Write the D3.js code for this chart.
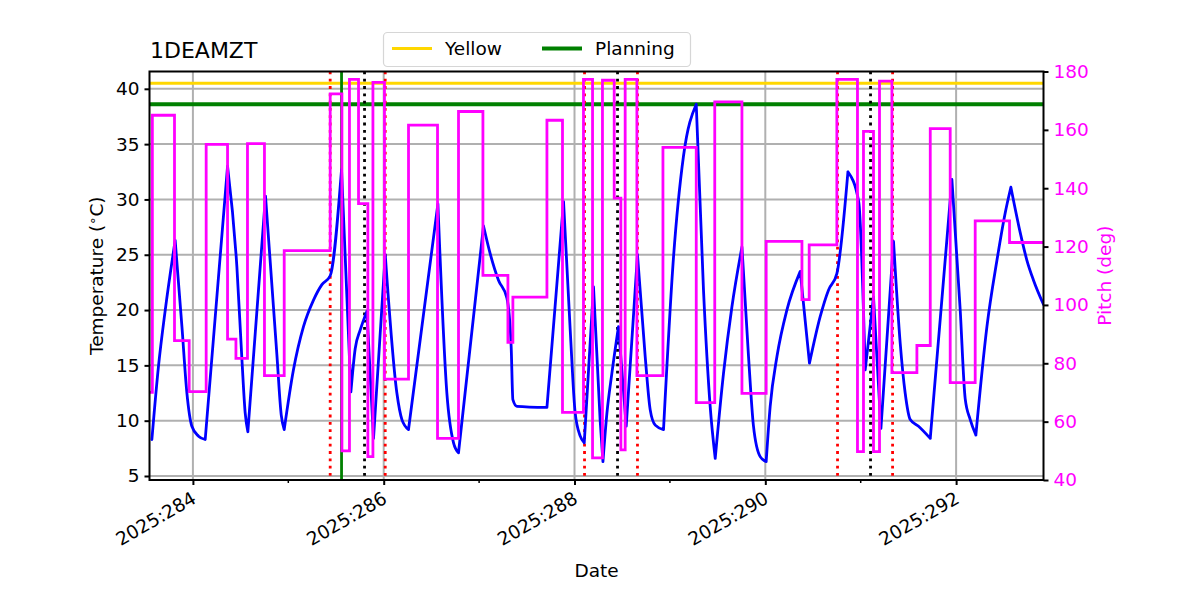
<!DOCTYPE html>
<html>
<head>
<meta charset="utf-8">
<script src="https://cdn.jsdelivr.net/npm/d3@7"></script>
<style>
  body { margin: 0; background: #fff; }
  text { font-family: "DejaVu Sans", sans-serif; }
</style>
</head>
<body>
<svg id="chart"></svg>
<script>
// Temperature trace (day of year, deg C)
const tempDays = [283.570, 283.639, 283.710, 283.814, 283.885, 283.937, 283.989, 284.059, 284.129,
  284.363, 284.461, 284.514, 284.548, 284.576, 284.761, 284.880, 284.926, 284.957,
  285.054, 285.159, 285.264, 285.352, 285.439, 285.558, 285.656, 285.701, 285.754, 285.824,
  285.893, 286.016, 286.138, 286.191, 286.260, 286.568, 286.662, 286.732, 286.784,
  287.046, 287.116, 287.203, 287.291, 287.336, 287.354, 287.396, 287.711,
  287.885, 287.955, 288.007, 288.060, 288.102, 288.199, 288.269, 288.298,
  288.340, 288.392, 288.461, 288.542, 288.660, 288.741, 288.793, 288.846, 288.933,
  289.038, 289.142, 289.276, 289.352, 289.422, 289.475, 289.562, 289.650, 289.755,
  289.824, 289.876, 289.946, 290.009, 290.051, 290.122, 290.226, 290.366, 290.463,
  290.575, 290.662, 290.750, 290.866, 290.979, 291.047, 291.134, 291.212, 291.344,
  291.414, 291.466, 291.519, 291.606, 291.729, 291.956, 292.043, 292.095, 292.148, 292.207,
  292.323, 292.428, 292.515, 292.574, 292.672, 292.742, 292.811, 292.916];
const tempValues = [8.3, 14.9, 20.0, 26.3, 18.5, 12.5, 9.5, 8.6, 8.3,
  33.0, 23.9, 15.5, 10.7, 9.0, 30.3, 16.0, 10.5, 9.2,
  14.6, 18.5, 20.9, 22.3, 23.1, 32.7, 12.6, 16.5, 18.2, 19.9,
  8.4, 25.0, 12.5, 10.1, 9.2, 29.6, 12.5, 8.0, 7.1,
  27.6, 25.1, 22.7, 21.1, 16.7, 11.9, 11.3, 11.2,
  29.8, 18.2, 10.7, 8.6, 8.0, 22.1, 10.0, 6.3,
  10.7, 14.3, 18.5, 9.5, 25.0, 15.8, 11.0, 9.6, 9.2,
  24.8, 33.9, 38.6, 21.8, 11.3, 6.6, 14.3, 20.3, 25.7,
  15.8, 9.5, 6.75, 6.3, 11.3, 15.8, 20.0, 23.5, 15.2,
  19.4, 21.8, 23.3, 32.5, 29.8, 14.6, 21.2, 9.3, 26.2,
  17.0, 12.5, 10.1, 9.5, 8.4, 31.8, 20.0, 12.0, 10.1, 8.7,
  18.5, 24.5, 28.8, 31.1, 27.0, 24.5, 22.7, 20.5];

// Pitch steps (day the value starts, deg)
const pitchDays = [283.548, 283.575, 283.807, 283.961, 284.139, 284.363, 284.451, 284.572, 284.750, 284.957,
  285.439, 285.562, 285.641, 285.736, 285.834, 285.887, 286.008, 286.260, 286.564, 286.784,
  287.040, 287.302, 287.354, 287.711, 287.874, 288.094, 288.189, 288.293, 288.416, 288.486,
  288.531, 288.654, 288.927, 289.276, 289.470, 289.755, 290.009, 290.384, 290.460, 290.750,
  290.966, 291.029, 291.134, 291.197, 291.327, 291.589, 291.729, 291.938, 292.200, 292.560, 292.916];
const pitchValues = [70, 165, 87.8, 70.3, 155, 88.3, 81.7, 155.3, 75.8, 118.6,
  172.3, 50, 177.3, 134.7, 48, 176.3, 74.6, 161.6, 54.3, 166.3,
  110.1, 87.2, 102.7, 163.3, 63.2, 177.3, 47.6, 177, 136.6, 50.3,
  177.3, 75.8, 154, 66.5, 169.6, 69.7, 121.8, 101.8, 120.6, 177.3,
  49.7, 159.5, 49.7, 176.7, 76.8, 86.1, 160.4, 73.4, 128.8, 121.4, 121.4];

const redLineDays = [285.439, 286.016, 288.105, 288.660, 290.757, 291.334];
const blackLineDays = [285.799, 288.451, 291.103];
const planningDays = [285.558];
const yellowLimit = 40.5;
const planningLimit = 38.6;

const xMajorTicks = [284, 286, 288, 290, 292];
const xMinorTicks = [285, 287, 289, 291];
const tempTicks = [5, 10, 15, 20, 25, 30, 35, 40];
const pitchTicks = [40, 60, 80, 100, 120, 140, 160, 180];

const width = 1200, height = 600;
const mLeft = 149.5, mRight = 1043.5, mTop = 71.5, mBottom = 480;

const svg = d3.select("#chart")
  .attr("width", width)
  .attr("height", height)
  .attr("viewBox", [0, 0, width, height]);

const x = d3.scaleLinear().domain([283.545, 292.916]).range([mLeft, mRight]);
const yT = d3.scaleLinear().domain([4.638, 41.565]).range([mBottom, mTop]);
const yP = d3.scaleLinear().domain([40, 180]).range([mBottom, mTop]);

svg.append("defs").append("clipPath").attr("id", "clip")
  .append("rect").attr("x", mLeft).attr("y", mTop)
  .attr("width", mRight - mLeft).attr("height", mBottom - mTop);

// grid
const grid = svg.append("g").attr("stroke", "#b0b0b0").attr("stroke-width", 2);
grid.selectAll(".gx").data(xMajorTicks).enter().append("line")
  .attr("x1", d => x(d)).attr("x2", d => x(d))
  .attr("y1", mTop).attr("y2", mBottom);
grid.selectAll(".gy").data(tempTicks).enter().append("line")
  .attr("x1", mLeft).attr("x2", mRight)
  .attr("y1", d => yT(d)).attr("y2", d => yT(d));

const plot = svg.append("g").attr("clip-path", "url(#clip)");

// limit lines
plot.append("line")
  .attr("x1", mLeft).attr("x2", mRight)
  .attr("y1", yT(yellowLimit)).attr("y2", yT(yellowLimit))
  .attr("stroke", "gold").attr("stroke-width", 3);
plot.append("line")
  .attr("x1", mLeft).attr("x2", mRight)
  .attr("y1", yT(planningLimit)).attr("y2", yT(planningLimit))
  .attr("stroke", "green").attr("stroke-width", 4);

plot.selectAll(".red").data(redLineDays).enter().append("line")
  .attr("x1", d => x(d)).attr("x2", d => x(d))
  .attr("y1", mTop).attr("y2", mBottom)
  .attr("stroke", "red").attr("stroke-width", 2.8)
  .attr("stroke-dasharray", "2.8,4.5");
plot.selectAll(".black").data(blackLineDays).enter().append("line")
  .attr("x1", d => x(d)).attr("x2", d => x(d))
  .attr("y1", mTop).attr("y2", mBottom)
  .attr("stroke", "black").attr("stroke-width", 2.8)
  .attr("stroke-dasharray", "2.8,4.5");
plot.selectAll(".plan").data(planningDays).enter().append("line")
  .attr("x1", d => x(d)).attr("x2", d => x(d))
  .attr("y1", mTop).attr("y2", mBottom)
  .attr("stroke", "green").attr("stroke-width", 2.8);

// temperature: split into monotone runs so peaks stay sharp
const tempPts = tempDays.map((d, i) => [d, tempValues[i]]);
const runs = [];
let run = [tempPts[0]];
for (let i = 1; i < tempPts.length; i++) {
  run.push(tempPts[i]);
  const next = tempPts[i + 1];
  if (next) {
    const s1 = Math.sign(tempPts[i][1] - tempPts[i - 1][1]);
    const s2 = Math.sign(next[1] - tempPts[i][1]);
    if (s1 !== s2) { runs.push(run); run = [tempPts[i]]; }
  }
}
runs.push(run);

const tempLine = d3.line()
  .x(d => x(d[0]))
  .y(d => yT(d[1]))
  .curve(d3.curveMonotoneX);
plot.append("path")
  .attr("fill", "none")
  .attr("stroke", "blue")
  .attr("stroke-width", 2.8)
  .attr("stroke-linejoin", "round")
  .attr("stroke-linecap", "round")
  .attr("d", runs.map(r => tempLine(r)).join(""));

// pitch
const pitchLine = d3.line()
  .x((d, i) => x(pitchDays[i]))
  .y(d => yP(d))
  .curve(d3.curveStepAfter);
plot.append("path")
  .datum(pitchValues)
  .attr("fill", "none")
  .attr("stroke", "magenta")
  .attr("stroke-width", 2.8)
  .attr("d", pitchLine);

// axes
const fs = "18.5px";
const xAxis = svg.append("g").attr("transform", `translate(0,${mBottom})`)
  .call(d3.axisBottom(x).tickValues(xMajorTicks).tickSize(5).tickPadding(6)
    .tickFormat(d => "2025:" + d));
xAxis.select(".domain").remove();
xAxis.selectAll("line").attr("stroke-width", 2);
xAxis.selectAll("text")
  .style("font-size", fs)
  .attr("fill", "#000")
  .attr("text-anchor", "end")
  .attr("dy", null)
  .attr("y", 0)
  .attr("transform", "translate(4,22) rotate(-30)");
svg.append("g").attr("transform", `translate(0,${mBottom})`)
  .selectAll("line").data(xMinorTicks).enter().append("line")
  .attr("x1", d => x(d)).attr("x2", d => x(d))
  .attr("y1", 0).attr("y2", 3)
  .attr("stroke", "#000").attr("stroke-width", 1.5);

const yAxisL = svg.append("g").attr("transform", `translate(${mLeft},0)`)
  .call(d3.axisLeft(yT).tickValues(tempTicks).tickSize(5).tickPadding(5));
yAxisL.select(".domain").remove();
yAxisL.selectAll("line").attr("stroke-width", 2);
yAxisL.selectAll("text").style("font-size", fs).attr("fill", "#000");

const yAxisR = svg.append("g").attr("transform", `translate(${mRight},0)`)
  .call(d3.axisRight(yP).tickValues(pitchTicks).tickSize(5).tickPadding(5));
yAxisR.select(".domain").remove();
yAxisR.selectAll("line").attr("stroke-width", 2);
yAxisR.selectAll("text").style("font-size", fs).attr("fill", "magenta");

// frame
svg.append("rect")
  .attr("x", mLeft).attr("y", mTop)
  .attr("width", mRight - mLeft).attr("height", mBottom - mTop)
  .attr("fill", "none").attr("stroke", "#000").attr("stroke-width", 2);

// labels
svg.append("text")
  .attr("x", 150).attr("y", 58)
  .style("font-size", "22px")
  .text("1DEAMZT");

svg.append("text")
  .attr("x", (mLeft + mRight) / 2).attr("y", 577)
  .attr("text-anchor", "middle")
  .style("font-size", fs)
  .text("Date");

const yl = svg.append("text")
  .attr("transform", `translate(103,${(mTop + mBottom) / 2}) rotate(-90)`)
  .attr("text-anchor", "middle")
  .style("font-size", fs);
yl.append("tspan").text("Temperature (");
yl.append("tspan").attr("dy", -6).style("font-size", "13px").text("∘");
yl.append("tspan").attr("dy", 6).text("C)");

svg.append("text")
  .attr("transform", `translate(1111,${(mTop + mBottom) / 2}) rotate(-90)`)
  .attr("text-anchor", "middle")
  .attr("fill", "magenta")
  .style("font-size", fs)
  .text("Pitch (deg)");

// legend
const legendItems = [
  { label: "Yellow", color: "gold", width: 3, x: 392 },
  { label: "Planning", color: "green", width: 4, x: 542 }
];
const lg = svg.append("g");
lg.append("rect")
  .attr("x", 383.5).attr("y", 32.5).attr("width", 307).attr("height", 34)
  .attr("rx", 4)
  .attr("fill", "#fff").attr("fill-opacity", 0.8)
  .attr("stroke", "#d6d6d6").attr("stroke-width", 1.2);
const li = lg.selectAll("g.item").data(legendItems).enter().append("g");
li.append("line")
  .attr("x1", d => d.x).attr("x2", d => d.x + 40)
  .attr("y1", 48.5).attr("y2", 48.5)
  .attr("stroke", d => d.color).attr("stroke-width", d => d.width);
li.append("text")
  .attr("x", d => d.x + 53).attr("y", 55)
  .style("font-size", fs)
  .text(d => d.label);
</script>
</body>
</html>
